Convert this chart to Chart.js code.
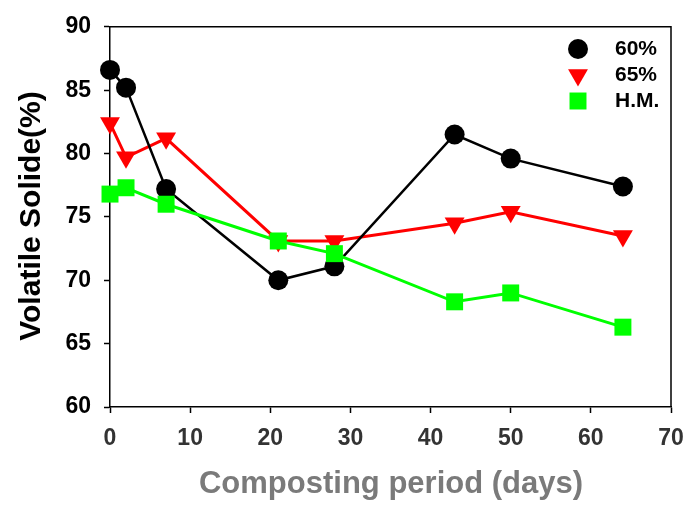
<!DOCTYPE html>
<html>
<head>
<meta charset="utf-8">
<script src="https://cdn.jsdelivr.net/npm/chart.js@4.4.1/dist/chart.umd.min.js"></script>
<style>
  html, body { margin: 0; padding: 0; background: #fff; }
  #wrap { width: 699px; height: 506px; position: relative; }
</style>
</head>
<body>
<div id="wrap"><canvas id="vsChart"></canvas></div>
<script>
// composting days and volatile solide (%) per treatment
var days = [0, 2, 7, 21, 28, 43, 50, 64];
var vs60 = [86.6, 85.2, 77.2, 70.0, 71.1, 81.5, 79.6, 77.4];
var vs65 = [82.4, 79.7, 81.2, 73.1, 73.1, 74.5, 75.4, 73.5];
var vsHM = [76.8, 77.3, 76.0, 73.1, 72.1, 68.3, 69.0, 66.3];
var seriesNames = ['60%', '65%', 'H.M.'];
var xTicks = [0, 10, 20, 30, 40, 50, 60, 70];
var yTicks = [60, 65, 70, 75, 80, 85, 90];

function toPoints(vals) {
    return days.map(function (d, i) { return { x: d, y: vals[i] }; });
}

var styles = [
    { color: '#000000', style: 'circle', radius: 10, rot: 0, width: 2.5, order: 1 },
    { color: '#ff0000', style: 'triangle', radius: 11.5, rot: 180, width: 3, order: 2 },
    { color: '#00ff00', style: 'rect', radius: 12, rot: 0, width: 3, order: 0 }
];
var values = [vs60, vs65, vsHM];

var datasets = values.map(function (v, i) {
    var s = styles[i];
    return {
        label: seriesNames[i],
        data: toPoints(v),
        showLine: true,
        borderColor: s.color,
        backgroundColor: s.color,
        borderWidth: s.width,
        pointStyle: s.style,
        pointRadius: s.radius,
        pointHoverRadius: s.radius,
        pointRotation: s.rot,
        pointBorderWidth: 0,
        order: s.order,
        clip: false
    };
});

// box around plot, axis titles and the legend box top-right
var decorations = {
    id: 'decorations',
    afterDraw: function (chart) {
        var ctx = chart.ctx, a = chart.chartArea;
        ctx.save();
        ctx.strokeStyle = '#000';
        ctx.lineWidth = 1.5;
        ctx.beginPath();
        ctx.moveTo(a.left, a.top);
        ctx.lineTo(a.right, a.top);
        ctx.lineTo(a.right, a.bottom);
        ctx.stroke();

        // y title
        ctx.fillStyle = '#000';
        ctx.font = 'bold 30px "Liberation Sans", Arial, sans-serif';
        ctx.textAlign = 'center';
        ctx.textBaseline = 'middle';
        ctx.translate(32, 216);
        ctx.rotate(-Math.PI / 2);
        ctx.fillText('Volatile Solide(%)', 0, 0);
        ctx.restore();

        ctx.save();
        ctx.fillStyle = '#7a7a7a';
        ctx.font = 'bold 31px "Liberation Sans", Arial, sans-serif';
        ctx.textAlign = 'center';
        ctx.textBaseline = 'middle';
        ctx.fillText('Composting period (days)', 391, 484);
        ctx.restore();

        // legend
        var rows = [49, 75, 101];
        ctx.save();
        ctx.font = 'bold 21px "Liberation Sans", Arial, sans-serif';
        ctx.textAlign = 'left';
        ctx.textBaseline = 'middle';
        rows.forEach(function (y, i) {
            var s = styles[i];
            ctx.fillStyle = s.color;
            ctx.strokeStyle = s.color;
            Chart.helpers.drawPoint(ctx, { pointStyle: s.style, radius: s.radius, rotation: s.rot, borderWidth: 0 }, 578, y);
            ctx.fillStyle = '#000';
            ctx.fillText(seriesNames[i], 615, y);
        });
        ctx.restore();
    }
};

var ctx = document.getElementById('vsChart');
var myChart = new Chart(ctx, {
    type: 'scatter',
    data: { datasets: datasets },
    options: {
        responsive: true,
        maintainAspectRatio: false,
        animation: false,
        layout: { padding: { top: 24, right: 28, left: 0, bottom: 0 } },
        plugins: { legend: { display: false }, tooltip: { enabled: false } },
        scales: {
            x: {
                type: 'linear',
                min: 0,
                max: 70,
                afterFit: function (scale) { scale.height = 99; },
                afterBuildTicks: function (scale) {
                    scale.ticks = xTicks.map(function (v) { return { value: v }; });
                },
                grid: { drawOnChartArea: false, drawTicks: true, tickLength: 6, tickColor: '#000', tickWidth: 1.5 },
                border: { display: true, color: '#000', width: 1.5 },
                ticks: {
                    color: '#333',
                    padding: 12,
                    maxRotation: 0,
                    font: { family: '"Liberation Sans", Arial, sans-serif', size: 23, weight: 'bold' }
                }
            },
            y: {
                min: 60,
                max: 90,
                afterFit: function (scale) { scale.width = 110; },
                afterBuildTicks: function (scale) {
                    scale.ticks = yTicks.map(function (v) { return { value: v }; });
                },
                grid: { drawOnChartArea: false, drawTicks: true, tickLength: 6, tickColor: '#000', tickWidth: 1.5 },
                border: { display: true, color: '#000', width: 1.5 },
                ticks: {
                    color: '#000',
                    padding: 13,
                    font: { family: '"Liberation Sans", Arial, sans-serif', size: 23, weight: 'bold' }
                }
            }
        }
    },
    plugins: [decorations]
});
</script>
</body>
</html>
